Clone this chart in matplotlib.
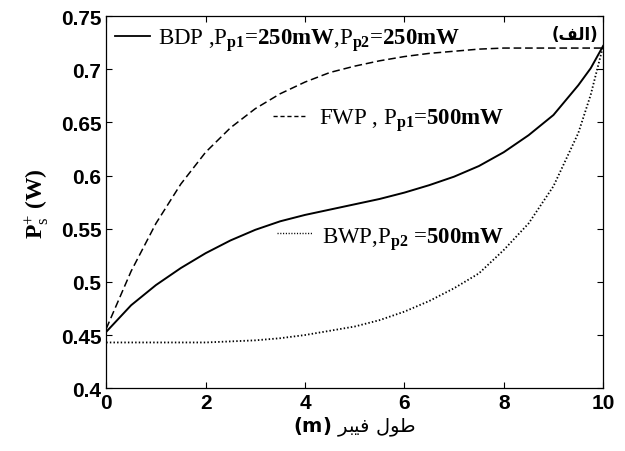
import matplotlib
matplotlib.use("Agg")
import matplotlib.pyplot as plt

plt.rcParams['mathtext.fontset'] = 'custom'
plt.rcParams['mathtext.rm'] = 'Liberation Serif'
plt.rcParams['mathtext.bf'] = 'Liberation Serif:bold'
plt.rcParams['mathtext.it'] = 'Liberation Serif:italic'
plt.rcParams['mathtext.sf'] = 'DejaVu Sans:bold'

# fibre length (m)
x = [0, 0.5, 1, 1.5, 2, 2.5, 3, 3.5, 4, 4.5, 5, 5.5, 6, 6.5, 7, 7.5, 8, 8.5, 9, 9.5, 9.75, 10]

# signal power P_s^+ (W)
bdp = [0.453, 0.478, 0.497, 0.513, 0.527, 0.539, 0.549, 0.557, 0.563, 0.568, 0.573,
       0.578, 0.584, 0.591, 0.599, 0.609, 0.622, 0.638, 0.657, 0.685, 0.701, 0.722]
fwp = [0.456, 0.510, 0.555, 0.592, 0.622, 0.645, 0.663, 0.677, 0.688, 0.697, 0.703,
       0.708, 0.712, 0.715, 0.717, 0.719, 0.720, 0.720, 0.720, 0.720, 0.720, 0.720]
bwp = [0.443, 0.443, 0.443, 0.443, 0.443, 0.444, 0.445, 0.447, 0.450, 0.454, 0.458,
       0.464, 0.472, 0.482, 0.494, 0.508, 0.530, 0.555, 0.590, 0.640, 0.676, 0.722]

xticks = [0, 2, 4, 6, 8, 10]
yticks = [0.4, 0.45, 0.5, 0.55, 0.6, 0.65, 0.7, 0.75]
yticklabels = ['0.4', '0.45', '0.5', '0.55', '0.6', '0.65', '0.7', '0.75']

# Persian strings in visual order (presentation forms, no shaping in matplotlib)
tag = '(\uFED2\uFEDF\uFE8D)'                              # (الف)
fiber_len = '\uFEAE\uFE92\uFEF4\uFED3 \uFEDD\uFEEE\uFEC3'   # طول فيبر

fig = plt.figure(figsize=(6.25, 4.52), dpi=100)
ax = fig.add_axes([0.17, 0.139, 0.795, 0.823])

ax.plot(x, bdp, color='black', lw=1.4)
ax.plot(x, fwp, color='black', lw=1.1, dashes=(5, 2.5))
ax.plot(x, bwp, color='black', lw=1.3, linestyle=(0, (0.8, 1.2)))

ax.set_xlim(0, 10)
ax.set_ylim(0.4, 0.75)
ax.set_xticks(xticks)
ax.set_yticks(yticks)
ax.set_yticklabels(yticklabels)
ax.tick_params(direction='in', top=True, right=True, length=4, width=0.8,
               labelsize=15)
for lab in ax.get_xticklabels() + ax.get_yticklabels():
    lab.set_fontfamily('Liberation Sans')
    lab.set_fontweight('bold')
for sp in ax.spines.values():
    sp.set_linewidth(0.9)

# inline keys and labels
serif = dict(family='Liberation Serif', size=16.5, transform=ax.transAxes, va='baseline')
ax.plot([0.018, 0.088], [0.946, 0.946], color='black', lw=1.3, transform=ax.transAxes)
ax.text(0.105, 0.925,
        r'BDP ,P$_{\mathbf{p1}}$=$\mathbf{250mW}$,P$_{\mathbf{p2}}$=$\mathbf{250mW}$',
        **serif)
ax.plot([0.336, 0.40], [0.731, 0.731], color='black', lw=1.0, dashes=(3, 2),
        transform=ax.transAxes)
ax.text(0.428, 0.712, r'FWP , P$_{\mathbf{p1}}$=$\mathbf{500mW}$', **serif)
ax.plot([0.344, 0.416], [0.417, 0.417], color='black', lw=1.0,
        linestyle=(0, (0.8, 1.2)), transform=ax.transAxes)
ax.text(0.435, 0.392, r'BWP,P$_{\mathbf{p2}}$ =$\mathbf{500mW}$', **serif)

ax.text(0.99, 0.952, tag, transform=ax.transAxes, ha='right', va='center',
        family='DejaVu Sans', fontsize=12, fontweight='bold')

ax.set_xlabel(r'$\mathsf{(m)}$ ' + fiber_len, family='DejaVu Sans',
              fontsize=14, labelpad=2)
ax.set_ylabel(r'P$_{\rm s}^{+}$ (W)', family='Liberation Serif',
              fontweight='bold', fontsize=17, labelpad=8)

fig.savefig('out.png', dpi=100)
